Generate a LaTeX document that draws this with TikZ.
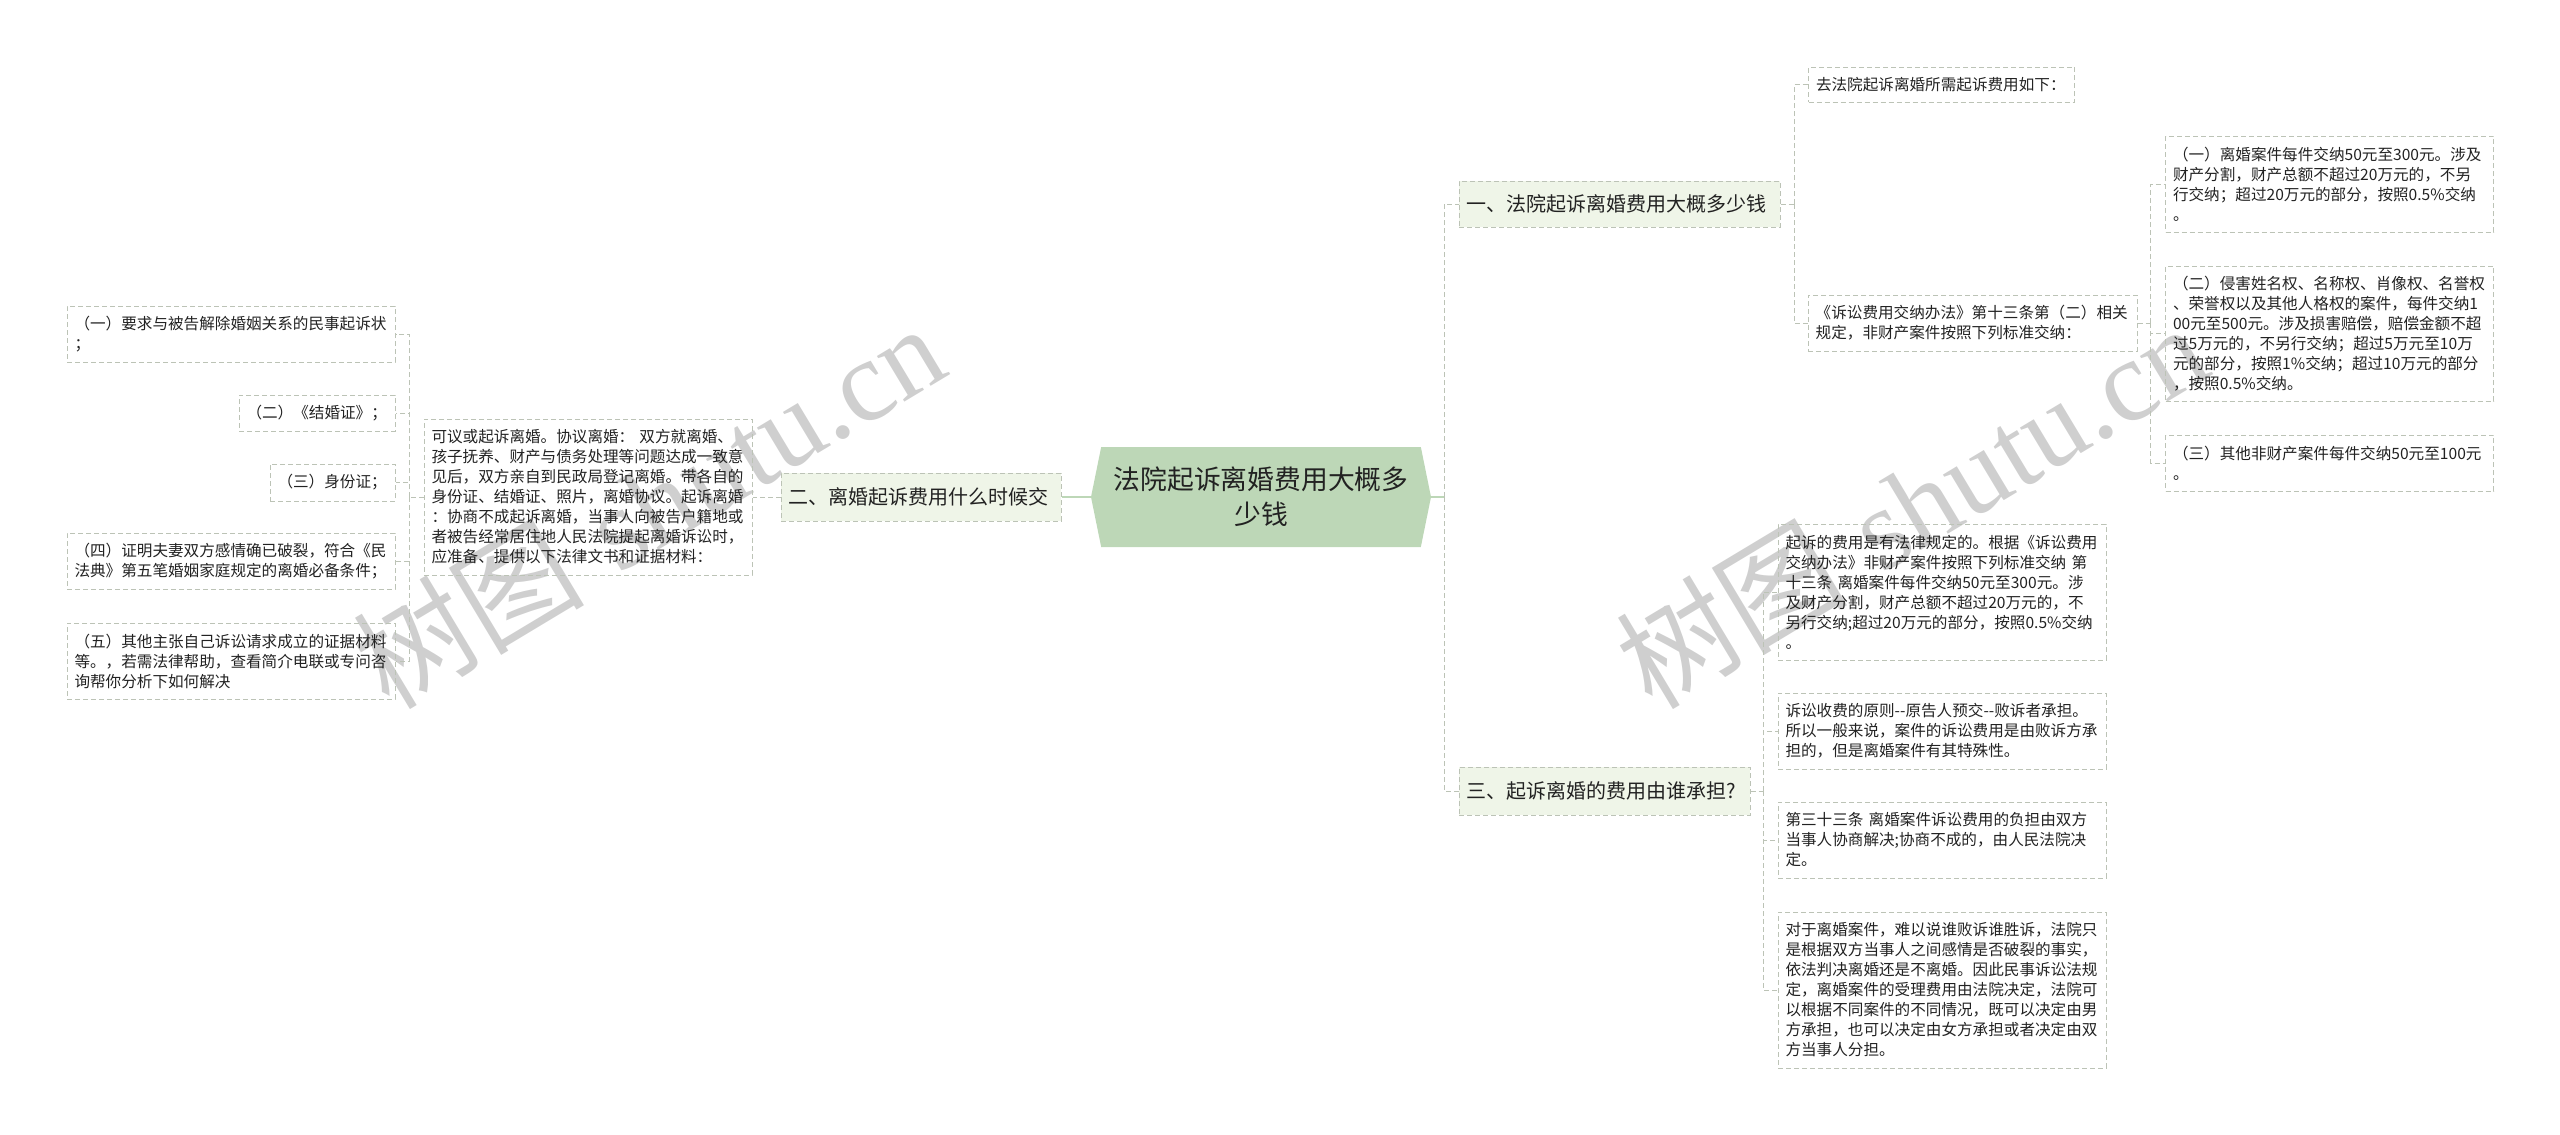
\documentclass[tikz,border=0pt]{standalone}
\usepackage{fontspec}
\usepackage{xcolor}
\usetikzlibrary{shapes.symbols}
\newfontfamily\cjkfont{Noto Sans CJK SC}
\newfontfamily\markfont{Liberation Serif}
\definecolor{mainfill}{HTML}{BDD7B7}
\definecolor{topicfill}{HTML}{EFF5E8}
\definecolor{dashgray}{HTML}{BCC3B6}
\definecolor{inkgray}{HTML}{222222}

\begin{document}
\begin{tikzpicture}[
    x=1pt, y=-1pt,
    every node/.style={text=inkgray},
    leaf/.style={draw=dashgray, dashed, dash pattern=on 5pt off 3pt, line width=1pt, rectangle, inner xsep=7.5pt, inner ysep=0pt, text width=#1, align=left, font=\cjkfont\fontsize{15.6}{20}\selectfont},
    topic/.style={leaf=#1, fill=topicfill, font=\cjkfont\fontsize{20}{26}\selectfont},
    mainbox/.style={shape=signal, signal to=east and west, signal pointer angle=157, fill=mainfill, inner sep=0pt, minimum width=340pt, minimum height=100pt, align=center, font=\cjkfont\fontsize{26.8}{35}\selectfont},
    link/.style={draw=dashgray, dashed, dash pattern=on 5pt off 3pt, line width=1pt},
    mainlink/.style={draw=mainfill, line width=2pt},
    watermark/.style={rotate=31, text=black!19, font=\fontsize{116}{116}\selectfont}
]
\useasboundingbox (0,0) rectangle (2560,1135);

% watermarks first, under everything
\node[watermark] (markA) at (648,505) {{\cjkfont 树图} {\markfont shutu.cn}};
\node[watermark] (markB) at (1911,505) {{\cjkfont 树图} {\markfont shutu.cn}};

% center
\node[mainbox] (main) at (1261,497) {法院起诉离婚费用大概多\\少钱};

% topics
\node[topic=306pt, minimum height=46pt] (topic1) at (1619.5,204) {一、法院起诉离婚费用大概多少钱};
\node[topic=265pt, minimum height=48pt] (topic2) at (921,497) {二、离婚起诉费用什么时候交};
\node[topic=276pt, minimum height=48pt] (topic3) at (1604.5,791) {三、起诉离婚的费用由谁承担?};

% right upper
\node[leaf=251pt, minimum height=35pt] (ask) at (1941.5,84.5) {去法院起诉离婚所需起诉费用如下：};
\node[leaf=314pt, minimum height=56pt] (rule) at (1972.7,323) {《诉讼费用交纳办法》第十三条第（二）相关\\规定，非财产案件按照下列标准交纳：};
\node[leaf=313pt, minimum height=96pt] (feeA) at (2329.5,184) {（一）离婚案件每件交纳50元至300元。涉及\\财产分割，财产总额不超过20万元的，不另\\行交纳；超过20万元的部分，按照0.5\%交纳\\。};
\node[leaf=313pt, minimum height=135pt] (feeB) at (2329.5,333.5) {（二）侵害姓名权、名称权、肖像权、名誉权\\、荣誉权以及其他人格权的案件，每件交纳1\\00元至500元。涉及损害赔偿，赔偿金额不超\\过5万元的，不另行交纳；超过5万元至10万\\元的部分，按照1\%交纳；超过10万元的部分\\，按照0.5\%交纳。};
\node[leaf=313pt, minimum height=56pt] (feeC) at (2329.5,463) {（三）其他非财产案件每件交纳50元至100元\\。};

% right lower
\node[leaf=313pt, minimum height=136pt] (lawA) at (1942,592) {起诉的费用是有法律规定的。根据《诉讼费用\\交纳办法》非财产案件按照下列标准交纳 第\\十三条 离婚案件每件交纳50元至300元。涉\\及财产分割，财产总额不超过20万元的，不\\另行交纳;超过20万元的部分，按照0.5\%交纳\\。};
\node[leaf=313pt, minimum height=76pt] (lawB) at (1942,731) {诉讼收费的原则{-}{-}原告人预交{-}{-}败诉者承担。\\所以一般来说，案件的诉讼费用是由败诉方承\\担的，但是离婚案件有其特殊性。};
\node[leaf=313pt, minimum height=76pt] (lawC) at (1942,840) {第三十三条 离婚案件诉讼费用的负担由双方\\当事人协商解决;协商不成的，由人民法院决\\定。};
\node[leaf=313pt, minimum height=156pt] (lawD) at (1942,990) {对于离婚案件，难以说谁败诉谁胜诉，法院只\\是根据双方当事人之间感情是否破裂的事实，\\依法判决离婚还是不离婚。因此民事诉讼法规\\定，离婚案件的受理费用由法院决定，法院可\\以根据不同案件的不同情况，既可以决定由男\\方承担，也可以决定由女方承担或者决定由双\\方当事人分担。};

% left side
\node[leaf=313pt, minimum height=156pt] (how) at (588,497) {可议或起诉离婚。协议离婚： 双方就离婚、\\孩子抚养、财产与债务处理等问题达成一致意\\见后，双方亲自到民政局登记离婚。带各自的\\身份证、结婚证、照片，离婚协议。起诉离婚\\：协商不成起诉离婚，当事人向被告户籍地或\\者被告经常居住地人民法院提起离婚诉讼时，\\应准备、提供以下法律文书和证据材料：};
\node[leaf=313pt, minimum height=56pt] (docA) at (231,334) {（一）要求与被告解除婚姻关系的民事起诉状\\；};
\node[leaf=141pt, minimum height=36pt] (docB) at (317,413) {（二）《结婚证》；};
\node[leaf=110pt, minimum height=37pt] (docC) at (332.5,482.5) {（三）身份证；};
\node[leaf=313pt, minimum height=56pt] (docD) at (231,561) {（四）证明夫妻双方感情确已破裂，符合《民\\法典》第五笔婚姻家庭规定的离婚必备条件；};
\node[leaf=313pt, minimum height=76pt] (docE) at (231,661) {（五）其他主张自己诉讼请求成立的证据材料\\等。，若需法律帮助，查看简介电联或专问咨\\询帮你分析下如何解决};

% bus points
\coordinate (busMainR) at (1444,497);
\coordinate (busOne) at (1794,204);
\coordinate (busRule) at (2150.6,323);
\coordinate (busThree) at (1763,791);
\coordinate (busHow) at (409,497);

% main links
\draw[mainlink] (main.east) -- (busMainR);
\draw[mainlink] (main.west) -- (topic2.east);

% right links
\draw[link] (busMainR) |- (topic1.west);
\draw[link] (busMainR) |- (topic3.west);
\draw[link] (topic1.east) -- (busOne);
\draw[link] (busOne) |- (ask.west);
\draw[link] (busOne) |- (rule.west);
\draw[link] (rule.east) -- (busRule);
\draw[link] (busRule) |- (feeA.west);
\draw[link] (busRule) |- (feeB.west);
\draw[link] (busRule) |- (feeC.west);
\draw[link] (topic3.east) -- (busThree);
\draw[link] (busThree) |- (lawA.west);
\draw[link] (busThree) |- (lawB.west);
\draw[link] (busThree) |- (lawC.west);
\draw[link] (busThree) |- (lawD.west);

% left links
\draw[link] (topic2.west) -- (how.east);
\draw[link] (how.west) -- (busHow);
\draw[link] (busHow) |- (docA.east);
\draw[link] (busHow) |- (docB.east);
\draw[link] (busHow) |- (docC.east);
\draw[link] (busHow) |- (docD.east);
\draw[link] (busHow) |- (docE.east);

\end{tikzpicture}
\end{document}
